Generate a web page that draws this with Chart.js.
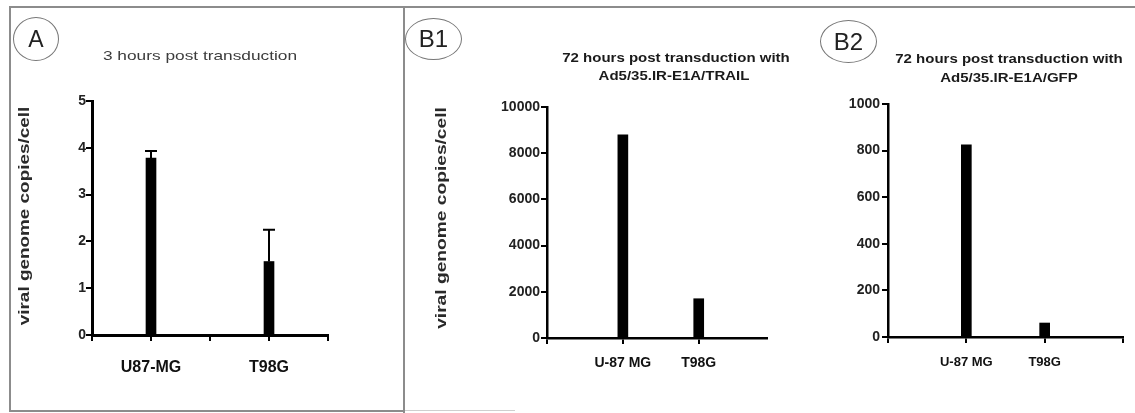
<!DOCTYPE html>
<html>
<head>
<meta charset="utf-8">
<script src="https://cdn.jsdelivr.net/npm/chart.js@4.4.1/dist/chart.umd.min.js"></script>
<style>
  html, body { margin: 0; padding: 0; background: #fff; }
  #page { position: relative; width: 1135px; height: 413px; overflow: hidden; background: #fff;
          font-family: "Liberation Sans", Arial, sans-serif; }
  canvas { position: absolute; left: 0; top: 0; }
  .rule { position: absolute; background: #8c8c8c; }
  .tag { position: absolute; box-sizing: border-box; border: 1.5px solid #777; border-radius: 50%;
         display: flex; align-items: center; justify-content: center; color: #222; line-height: 1; }
</style>
</head>
<body>
<div id="page">
  <!-- panel frames -->
  <div class="rule" style="left:9px;top:6px;width:1126px;height:2px"></div>
  <div class="rule" style="left:9px;top:6px;width:2px;height:406px"></div>
  <div class="rule" style="left:403px;top:6px;width:2px;height:407px"></div>
  <div class="rule" style="left:9px;top:410px;width:396px;height:2px"></div>
  <div class="rule" style="left:405px;top:410px;width:110px;height:1px;background:#cfcfcf"></div>

  <canvas id="chartA" width="1135" height="413"></canvas>
  <canvas id="chartB1" width="1135" height="413"></canvas>
  <canvas id="chartB2" width="1135" height="413"></canvas>

  <!-- panel tags -->
  <div class="tag" style="left:13px;top:17px;width:46px;height:44px;font-size:23px">A</div>
  <div class="tag" style="left:405px;top:18px;width:57px;height:42px;font-size:24px">B1</div>
  <div class="tag" style="left:820px;top:20px;width:57px;height:43px;font-size:24px">B2</div>
</div>

<script>
// ---- data ----
const cellLinesA = ['U87-MG', 'T98G'];
const copiesA = [3.78, 1.57];        // viral genome copies/cell, 3 h
const copiesErrA = [0.15, 0.68];     // upper error
const yTicksA = [0, 1, 2, 3, 4, 5];

const cellLinesB = ['U-87 MG', 'T98G'];
const copiesB1 = [8800, 1700];       // 72 h, Ad5/35.IR-E1A/TRAIL
const yTicksB1 = [0, 2000, 4000, 6000, 8000, 10000];
const copiesB2 = [825, 60];          // 72 h, Ad5/35.IR-E1A/GFP
const yTicksB2 = [0, 200, 400, 600, 800, 1000];

const FONT = '"Liberation Sans", Arial, sans-serif';

// Text drawn with a horizontal stretch, placed relative to the chart area.
function makeTextPlugin(items) {
  return {
    id: 'panelText',
    afterDraw(chart) {
      const ctx = chart.ctx, a = chart.chartArea;
      items.forEach(t => {
        ctx.save();
        ctx.font = t.font;
        ctx.fillStyle = t.color;
        ctx.textAlign = 'center';
        ctx.textBaseline = 'middle';
        if (t.vertical) {
          ctx.translate(a.left + t.dx, (a.top + a.bottom) / 2 + t.dy);
          ctx.rotate(-Math.PI / 2);
        } else {
          ctx.translate((a.left + a.right) / 2 + t.dx, a.top + t.dy);
        }
        ctx.scale(t.sx, 1);
        ctx.fillText(t.text, 0, 0);
        ctx.restore();
      });
    }
  };
}

// Upper-only error bars with a cap.
const errorBars = {
  id: 'errorBars',
  afterDatasetsDraw(chart) {
    const ctx = chart.ctx, y = chart.scales.y;
    chart.data.datasets.forEach((ds, di) => {
      if (!ds.errors) return;
      chart.getDatasetMeta(di).data.forEach((bar, i) => {
        const top = y.getPixelForValue(ds.data[i].y + ds.errors[i]);
        const half = bar.width / 2 + 1;
        ctx.save();
        ctx.strokeStyle = '#000';
        ctx.lineWidth = 2;
        ctx.beginPath();
        ctx.moveTo(bar.x, bar.y);
        ctx.lineTo(bar.x, top);
        ctx.moveTo(bar.x - half, top);
        ctx.lineTo(bar.x + half, top);
        ctx.stroke();
        ctx.restore();
      });
    });
  }
};

function barPanel(id, p) {
  const gridStyle = { drawOnChartArea: false, drawTicks: true, tickLength: 6, color: '#000', lineWidth: 2, offset: false };
  return new Chart(document.getElementById(id), {
    type: 'bar',
    data: {
      datasets: [{
        data: p.values.map((v, i) => ({ x: i, y: v })),
        errors: p.errors || null,
        backgroundColor: '#000',
        borderWidth: 0,
        barThickness: 10
      }]
    },
    options: {
      responsive: false,
      animation: false,
      events: [],
      layout: { padding: p.padding },
      plugins: { legend: { display: false }, tooltip: { enabled: false }, title: { display: false } },
      scales: {
        x: {
          type: 'linear', min: p.xMin, max: p.xMax, offset: false,
          afterBuildTicks: s => { s.ticks = p.xTicks.map(v => ({ value: v })); },
          afterFit: s => { s.height = 50; },
          ticks: {
            autoSkip: false, maxRotation: 0, padding: p.xPad, color: '#111',
            font: { family: FONT, size: p.xSize, weight: 'bold' },
            callback: v => (Number.isInteger(v) && v >= 0 && v < p.labels.length) ? p.labels[v] : ''
          },
          grid: gridStyle,
          border: { display: true, color: '#000', width: p.axisWidth }
        },
        y: {
          type: 'linear', min: 0, max: p.yTicks[p.yTicks.length - 1],
          afterBuildTicks: s => { s.ticks = p.yTicks.map(v => ({ value: v })); },
          afterFit: s => { s.width = p.yWidth; },
          ticks: {
            padding: p.yPad, color: '#222',
            font: { family: FONT, size: 14, weight: 'bold' },
            callback: v => String(v)
          },
          grid: gridStyle,
          border: { display: true, color: '#000', width: p.axisWidth }
        }
      }
    },
    plugins: [makeTextPlugin(p.texts), errorBars]
  });
}

// x tick positions: slot edges and centres (A); axis start + centres (B1); start, centres, end (B2)
const xTicksA = [-0.5].concat(...cellLinesA.map((_, i) => [i, i + 0.5]));
const xTicksB1 = [-1].concat(cellLinesB.map((_, i) => i));
const xTicksB2 = [-1].concat(cellLinesB.map((_, i) => i), [cellLinesB.length]);

barPanel('chartA', {
  labels: cellLinesA, values: copiesA, errors: copiesErrA, yTicks: yTicksA,
  xMin: -0.5, xMax: 1.5, xTicks: xTicksA,
  padding: { left: 52, right: 807, top: 101, bottom: 28 }, yWidth: 40,
  xSize: 16, xPad: 17, yPad: 0, axisWidth: 3,
  texts: [
    { text: '3 hours post transduction', font: '13px ' + FONT, color: '#3c3c3c', sx: 1.33, dx: -10, dy: -45 },
    { text: 'viral genome copies/cell', font: 'bold 14px ' + FONT, color: '#2a2a2a', sx: 1.35, vertical: true, dx: -67, dy: -2 }
  ]
});

barPanel('chartB1', {
  labels: cellLinesB, values: copiesB1, yTicks: yTicksB1,
  xMin: -1, xMax: 1.9, xTicks: xTicksB1,
  padding: { left: 497, right: 368, top: 107, bottom: 25 }, yWidth: 50,
  xSize: 14, xPad: 11, yPad: 1, axisWidth: 2.5,
  texts: [
    { text: '72 hours post transduction with', font: 'bold 12px ' + FONT, color: '#1a1a1a', sx: 1.25, dx: 19, dy: -48 },
    { text: 'Ad5/35.IR-E1A/TRAIL', font: 'bold 12px ' + FONT, color: '#1a1a1a', sx: 1.25, dx: 17, dy: -30 },
    { text: 'viral genome copies/cell', font: 'bold 14px ' + FONT, color: '#2a2a2a', sx: 1.37, vertical: true, dx: -105, dy: -4.5 }
  ]
});

barPanel('chartB2', {
  labels: cellLinesB, values: copiesB2, yTicks: yTicksB2,
  xMin: -1, xMax: 2, xTicks: xTicksB2,
  padding: { left: 843, right: 8, top: 104, bottom: 26 }, yWidth: 45,
  xSize: 13, xPad: 12, yPad: 2, axisWidth: 2.5,
  texts: [
    { text: '72 hours post transduction with', font: 'bold 12px ' + FONT, color: '#1a1a1a', sx: 1.25, dx: 3.5, dy: -44 },
    { text: 'Ad5/35.IR-E1A/GFP', font: 'bold 12px ' + FONT, color: '#1a1a1a', sx: 1.25, dx: 3.5, dy: -25 }
  ]
});
</script>
</body>
</html>
